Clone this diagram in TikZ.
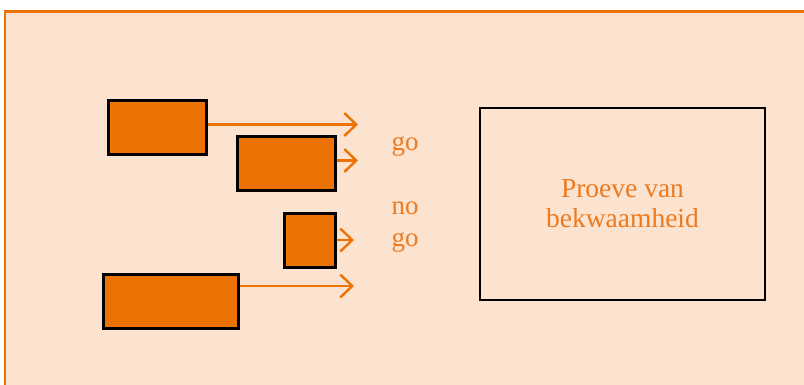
\documentclass[tikz,border=0pt]{standalone}
\usepackage{fontspec}
\setmainfont{Liberation Serif}
\usetikzlibrary{
    arrows.meta,
    positioning
}
\definecolor{panelfill}{RGB}{251,227,207}
\definecolor{oranje}{RGB}{236,114,4}
\definecolor{oranjetext}{RGB}{236,122,32}
\tikzset {
    panel/.style = {draw = oranje, fill = panelfill, line width = 2.6pt},
    blok/.style = {draw = black, fill = oranje, line width = 3pt, inner sep = 0pt},
    proef/.style = {draw = black, line width = 2.6pt, inner sep = 0pt,
        text = oranjetext, align = center,
        font = \fontsize{27.5}{30}\selectfont},
    label text/.style = {text = oranjetext, align = center,
        font = \fontsize{27}{32}\selectfont},
    pijl/.style = {draw = oranje, line width = 2.4pt,
        arrows = {-Straight Barb[length = 12pt, width = 23pt]}}
}
\begin{document}
\begin{tikzpicture}[x = 1pt, y = -1pt]
            \clip (0, 0) rectangle (804, 384);
            \useasboundingbox (0, 0) rectangle (804, 384);
            \fill [white] (0, 0) rectangle (804, 384);
            \draw [panel] (5, 11.5) rectangle (820, 400);
            % blokken
            \node (b1) [blok, minimum width = 98pt, minimum height = 54pt] at (157.5, 127) {};
            \node (b2) [blok, minimum width = 98pt, minimum height = 54pt] at (286.3, 163) {};
            \node (b3) [blok, minimum width = 51pt, minimum height = 54pt] at (310, 240.5) {};
            \node (b4) [blok, minimum width = 135pt, minimum height = 54pt] at (171, 301) {};
            \coordinate (e1) at (358, 124.5);
            \coordinate (e2) at (358, 160.5);
            \coordinate (e3) at (354, 240);
            \coordinate (e4) at (354, 286);
            \draw [pijl] (b1.east |- e1) -- (e1);
            \draw [pijl] (b2.east |- e2) -- (e2);
            \draw [pijl] (b3.east |- e3) -- (e3);
            \draw [pijl] (b4.east |- e4) -- (e4);
            % teksten
            \node (go) [label text] at (405, 146) {go};
            \node (nogo) [label text] at (405, 227) {no\\go};
            \node (pvb) [proef, minimum width = 285pt, minimum height = 192pt] at (622.5, 204)
                {Proeve van\\bekwaamheid};
        \end{tikzpicture}
\end{document}
